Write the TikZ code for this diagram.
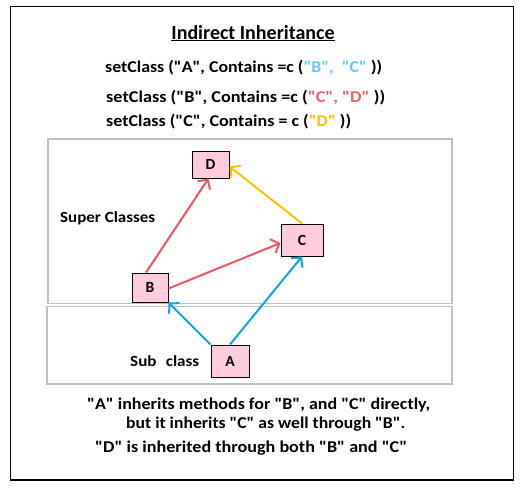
\documentclass[tikz,border=0pt]{standalone}
\usepackage{fontspec}
\setmainfont{Carlito}[Ligatures=TeXOff]
\usetikzlibrary{arrows.meta}
\definecolor{lblue}{RGB}{100,200,250}
\definecolor{tred}{RGB}{240,96,106}
\definecolor{tyel}{RGB}{255,192,0}
\definecolor{ablue}{RGB}{20,162,224}
\definecolor{ared}{RGB}{238,85,100}
\definecolor{pinkfill}{RGB}{255,204,221}
\definecolor{panelgray}{RGB}{192,192,192}
\newcommand{\fitw}[2]{\resizebox{#1pt}{\height}{#2}}
\tikzset{
  cls/.style={draw=black, line width=1pt, fill=pinkfill, inner sep=0pt, font=\fontsize{15.5}{17}\selectfont\bfseries},
  txt/.style={inner sep=0pt, anchor=base west, font=\fontsize{16.5}{19}\selectfont\bfseries},
  lbl/.style={inner sep=0pt, anchor=base west, font=\fontsize{15.5}{18}\selectfont\bfseries},
  panel/.style={draw=panelgray, line width=1.2pt},
  arr/.style={line width=2pt, -{Straight Barb[length=7pt,width=15pt,line width=2pt]}}
}
\begin{document}
\begin{tikzpicture}[x=1pt,y=-1pt]
\useasboundingbox (0,0) rectangle (521,491);
\draw[line width=1.3pt] (10.5,6.5) rectangle (513.5,480);
\draw[panel] (48,139) rectangle (452,303.5);
\draw[panel] (47,306.5) rectangle (452,384);
% title and code
\node[inner sep=0pt, anchor=base, font=\fontsize{20}{24}\selectfont\bfseries] (title) at (253,39) {\underline{Indirect Inheritance}};
\node[txt] (l1) at (105,72) {\fitw{277}{setClass ("A", Contains =c (\textcolor{lblue}{"B",\ \ "C"} ))}};
\node[txt] (l2) at (106,102) {\fitw{279}{setClass ("B", Contains =c (\textcolor{tred}{"C", "D"} ))}};
\node[txt] (l3) at (106,126) {\fitw{245}{setClass ("C", Contains = c (\textcolor{tyel}{"D"} ))}};
% labels
\node[lbl] (sup) at (60,222) {\fitw{95}{Super Classes}};
\node[lbl] (sub) at (130,366) {\fitw{69}{Sub\hspace{5pt} class}};
% classes
\node[cls, minimum width=37pt, minimum height=27pt] (D) at (210.5,164.5) {D};
\node[cls, minimum width=42pt, minimum height=32pt] (C) at (302,240) {C};
\node[cls, minimum width=36pt, minimum height=29pt] (B) at (150,287.5) {B};
\node[cls, minimum width=38pt, minimum height=32pt] (A) at (230,361) {A};
% connectors
\draw[arr, ared] ([xshift=-4pt]B.north) -- ([xshift=-2pt]D.south);
\draw[arr, ared] ([yshift=-1pt]B.east) -- ([yshift=-3pt]C.west);
\draw[arr, tyel] (C.north) -- ([yshift=-2pt]D.east);
\draw[arr, ablue] (A.north west) -- (B.south east);
\draw[arr, ablue] (A.north) -- (C.south);
% bottom text
\node[txt] (b1) at (87,409) {\fitw{343}{"A" inherits methods for "B", and "C" directly,}};
\node[txt] (b2) at (126,428) {\fitw{279}{but it inherits "C" as well through "B".}};
\node[txt] (b3) at (95,452) {\fitw{312}{"D" is inherited through both "B" and "C"}};
\end{tikzpicture}
\end{document}
